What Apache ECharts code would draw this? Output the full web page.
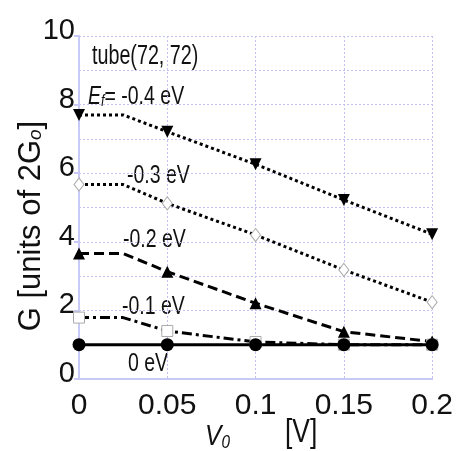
<!DOCTYPE html>
<html><head><meta charset="utf-8">
<script src="https://cdn.jsdelivr.net/npm/echarts@6/dist/echarts.min.js"></script>
<style>html,body{margin:0;padding:0;background:#fff}#c{width:456px;height:451px}</style>
</head><body><div id="c"></div>
<script>
// ---- data ----
const xValues = [0, 0.025, 0.05, 0.1, 0.15, 0.2];
const markerAt = [true, false, true, true, true, true];
const gEf04 = [7.70, 7.70, 7.21, 6.26, 5.22, 4.22];
const gEf03 = [5.67, 5.67, 5.12, 4.20, 3.18, 2.24];
const gEf02 = [3.66, 3.66, 3.13, 2.21, 1.38, 1.09];
const gEf01 = [1.79, 1.79, 1.40, 1.08, 1.00, 1.00];
const gEf00 = [1.00, 1.00, 1.00, 1.00, 1.00, 1.00];
const seriesNames = ['-0.4 eV', '-0.3 eV', '-0.2 eV', '-0.1 eV', '0 eV'];
const yTickLabels = ['0', '2', '4', '6', '8', '10'];
const xTickLabels = ['0', '0.05', '0.1', '0.15', '0.2'];

const SANS = '"Liberation Sans", Arial, sans-serif';

function mk(ys) {
  return xValues.map((x, i) => markerAt[i] ? [x, ys[i]] : { value: [x, ys[i]], symbol: 'none' });
}

const chart = echarts.init(document.getElementById('c'), null, { renderer: 'canvas' });
const axisCol = '#c9c9f7';
const gridCol = '#c2c2f2';
const ink = '#111';

function note(text, x, y, size, sx) {
  return { type: 'text', x: x, y: y, scaleX: sx, style: { text: text, font: size + 'px ' + SANS, fill: ink, align: 'left', verticalAlign: 'middle' } };
}

chart.setOption({
  animation: false,
  backgroundColor: '#fff',
  grid: { left: 79, top: 36, right: 19, bottom: 72 },
  xAxis: [{
    type: 'value', min: 0, max: 0.2, interval: 0.05,
    axisLine: { show: true, onZero: false, lineStyle: { color: axisCol, width: 2 } },
    axisTick: { show: false },
    splitLine: { show: true, lineStyle: { color: gridCol, type: [2, 2], width: 1 } },
    axisLabel: {
      margin: 12, color: ink, fontFamily: SANS, fontSize: 30,
      formatter: v => { const s = String(+v.toFixed(2)); return xTickLabels.includes(s) ? s : ''; }
    }
  }, {
    type: 'value', min: 0, max: 0.2, interval: 0.05, position: 'top',
    axisLine: { show: true, lineStyle: { color: axisCol, width: 2 } },
    axisTick: { show: false }, axisLabel: { show: false }, splitLine: { show: false }
  }],
  yAxis: [{
    type: 'value', min: 0, max: 10, interval: 1,
    axisLine: { show: true, onZero: false, lineStyle: { color: axisCol, width: 2 } },
    axisTick: { show: false },
    splitLine: { show: true, lineStyle: { color: gridCol, type: [2, 2], width: 1 } },
    axisLabel: {
      margin: 4, color: ink, fontFamily: SANS, fontSize: 29,
      verticalAlign: 'bottom', lineHeight: 10,
      formatter: v => { const s = String(Math.round(v)); return yTickLabels.includes(s) && Math.abs(v - Math.round(v)) < 1e-6 ? s : ''; }
    }
  }, {
    type: 'value', min: 0, max: 10, interval: 2, position: 'right',
    axisLine: { show: true, lineStyle: { color: axisCol, width: 2 } },
    axisTick: { show: true, inside: true, length: 5, lineStyle: { color: axisCol, width: 2 } },
    axisLabel: { show: false }, splitLine: { show: false }
  }],
  series: [
    { name: seriesNames[0], type: 'line', data: mk(gEf04), clip: false,
      symbol: 'triangle', symbolRotate: 180, symbolSize: 12,
      itemStyle: { color: '#000' }, lineStyle: { color: '#000', width: 3, type: [3, 3] } },
    { name: seriesNames[1], type: 'line', data: mk(gEf03), clip: false,
      symbol: 'diamond', symbolSize: [10, 13],
      itemStyle: { color: '#fff', borderColor: '#aaa', borderWidth: 1 }, lineStyle: { color: '#000', width: 3, type: [3, 3] } },
    { name: seriesNames[2], type: 'line', data: mk(gEf02), clip: false,
      symbol: 'triangle', symbolSize: 12,
      itemStyle: { color: '#000' }, lineStyle: { color: '#000', width: 3, type: [10, 5] } },
    { name: seriesNames[3], type: 'line', data: mk(gEf01), clip: false,
      symbol: 'rect', symbolSize: 11,
      itemStyle: { color: '#fff', borderColor: '#aaa', borderWidth: 1 }, lineStyle: { color: '#000', width: 3, type: [10, 4, 3, 4] } },
    { name: seriesNames[4], type: 'line', data: mk(gEf00), clip: false,
      symbol: 'circle', symbolSize: 13,
      itemStyle: { color: '#000' }, lineStyle: { color: '#000', width: 3 } }
  ],
  graphic: [
    note('tube(72, 72)', 92, 57, 27, 0.73),
    { type: 'text', x: 88, y: 97, scaleX: 0.78, style: {
        text: '{i|E}{s|f}{n|= -0.4 eV}', align: 'left', verticalAlign: 'middle',
        rich: {
          n: { fontFamily: SANS, fontSize: 25, fill: ink },
          i: { fontFamily: SANS, fontSize: 25, fontStyle: 'italic', fill: ink },
          s: { fontFamily: SANS, fontSize: 16, fontStyle: 'italic', fill: ink, padding: [10, 0, 0, 0] }
        } } },
    note(seriesNames[1], 127, 176, 25, 0.78),
    note(seriesNames[2], 123, 240, 25, 0.78),
    note(seriesNames[3], 122, 307, 25, 0.78),
    note(seriesNames[4], 128, 364, 25, 0.78),
    { type: 'text', x: 31, y: 226, rotation: Math.PI / 2, style: {
        text: '{n|G [units of 2G}{s|o}{n|]}',
        align: 'center', verticalAlign: 'middle',
        rich: {
          n: { fontFamily: SANS, fontSize: 31, fill: ink },
          s: { fontFamily: SANS, fontSize: 19, fontStyle: 'italic', fill: ink, padding: [10, 0, 0, 0] }
        } } },
    { type: 'text', x: 205, y: 437, scaleX: 0.85, style: {
        text: '{i|V}{s|0}', align: 'left', verticalAlign: 'middle',
        rich: {
          i: { fontFamily: SANS, fontSize: 29, fontStyle: 'italic', fill: ink },
          s: { fontFamily: SANS, fontSize: 18, fontStyle: 'italic', fill: ink, padding: [12, 0, 0, 0] }
        } } },
    { type: 'text', x: 285, y: 433, scaleX: 0.8, style: { text: '[V]', align: 'left', verticalAlign: 'middle', font: '33px ' + SANS, fill: ink } }
  ]
});
</script>
</body></html>
